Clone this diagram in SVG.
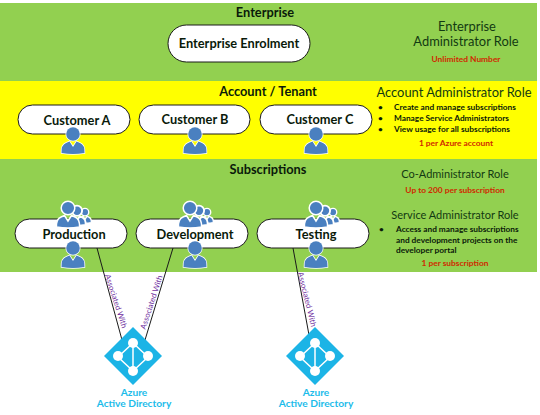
<svg xmlns="http://www.w3.org/2000/svg" width="540" height="415" viewBox="0 0 540 415">
<style>
text{font-family:Lato,"Open Sans","Liberation Sans",sans-serif;fill:#0a1a0a}
.m{text-anchor:middle}
.h{font-size:12.8px;font-weight:700}
.p{font-size:12.8px;font-weight:700;text-anchor:middle}
.r{font-size:12.9px;text-anchor:middle;fill:#123a12}
.s{font-size:11px}
.b{font-size:8.3px;font-weight:700}
.n{font-size:8.4px;font-weight:700;text-anchor:middle;fill:#d02a00}
.a{font-size:7.8px;fill:#7030a0;text-anchor:middle}
.z{font-size:10.2px;font-weight:700;fill:#1cbcea;text-anchor:middle}
.pill{fill:#fff;stroke:#1a1a1a;stroke-width:1}
.conn{stroke:#1a1a1a;stroke-width:1;fill:none}
</style>
<defs>
<g id="person"><circle cx="0" cy="-7" r="6.8"/><path d="M-11.5 12Q-12 4-7 2L-3.5 0.5L0 6L3.5 0.5L7 2Q12 4 11.5 12Q0 14 -11.5 12Z"/></g>
<g id="one"><use href="#person" fill="#4a80c0" stroke="#fff" stroke-width="1.5"/><use href="#person" fill="#4a80c0"/></g>
<g id="three">
<g transform="translate(17,1) scale(.55)"><use href="#person" fill="#4a80c0" stroke="#fff" stroke-width="2.5"/></g>
<g transform="translate(9,1) scale(.75)"><use href="#person" fill="#4a80c0" stroke="#fff" stroke-width="2.5"/></g>
<use href="#person" fill="#4a80c0" stroke="#fff" stroke-width="1.5"/>
</g>
<g id="aad">
<path d="M0-29L29 0L0 29L-29 0Z" fill="#1cb4e6"/>
<path d="M0-13L-15 1L0 15L15 1Z" fill="none" stroke="#fff" stroke-width="1.5"/>
<path d="M0-13V15" stroke="#fff" stroke-width="1.5"/>
<circle cx="0" cy="-13" r="5" fill="#fff"/><circle cx="-15" cy="0" r="5" fill="#fff"/><circle cx="15" cy="0" r="5" fill="#fff"/><circle cx="0" cy="15" r="5" fill="#fff"/>
</g>
</defs>
<rect width="540" height="415" fill="#fff"/>
<rect x="0" y="3" width="537" height="78" fill="#92d050"/>
<rect x="0" y="81" width="537" height="78" fill="#ffff00"/>
<rect x="0" y="159" width="537" height="113" fill="#92d050"/>
<g id="connectors">
<path class="conn" d="M97 248L122 340M173 248L145 340M293 248L309 335"/>
<text class="a" transform="translate(113.5,302) rotate(72)">Associated With</text>
<text class="a" transform="translate(154,303) rotate(-72)">Associated With</text>
<text class="a" transform="translate(304.5,300) rotate(76)">Associated With</text>
</g>
<g id="band-labels">
<text class="h m" x="265" y="17">Enterprise</text>
<text class="h m" x="268" y="96">Account / Tenant</text>
<text class="h m" x="268" y="174">Subscriptions</text>
</g>
<g id="enterprise-enrolment"><rect class="pill" x="168" y="25" width="142" height="37" rx="18.5"/><text class="p" x="239" y="48">Enterprise Enrolment</text></g>
<g id="customer-a"><rect class="pill" x="18" y="105" width="112" height="29" rx="14.5"/><text class="p" x="77" y="125">Customer A</text><use href="#one" x="73" y="141"/></g>
<g id="customer-b"><rect class="pill" x="139" y="105" width="111" height="29" rx="14.5"/><text class="p" x="195" y="124">Customer B</text><use href="#one" x="195" y="141"/></g>
<g id="customer-c"><rect class="pill" x="260" y="105" width="112" height="29" rx="14.5"/><text class="p" x="320" y="124">Customer C</text><use href="#one" x="316" y="141"/></g>
<g id="production"><rect class="pill" x="15" y="219" width="112" height="29" rx="14.5"/><use href="#three" x="68" y="215"/><text class="p" x="74" y="239">Production</text><use href="#one" x="73" y="255"/></g>
<g id="development"><rect class="pill" x="136" y="219" width="112" height="29" rx="14.5"/><use href="#three" x="190" y="215"/><text class="p" x="195" y="239">Development</text><use href="#one" x="195" y="255"/></g>
<g id="testing"><rect class="pill" x="257" y="219" width="112" height="29" rx="14.5"/><use href="#three" x="316" y="215"/><text class="p" x="316" y="239">Testing</text><use href="#one" x="316" y="255"/></g>
<g id="aad-1"><use href="#aad" x="133" y="356"/><text class="z" x="134" y="395.5">Azure</text><text class="z" x="134" y="407">Active Directory</text></g>
<g id="aad-2"><use href="#aad" x="315" y="356"/><text class="z" x="316" y="395.5">Azure</text><text class="z" x="316" y="407">Active Directory</text></g>
<g id="enterprise-role">
<text class="r" x="467" y="31">Enterprise</text>
<text class="r" x="466" y="46">Administrator Role</text>
<text class="n" x="466" y="62">Unlimited Number</text>
</g>
<g id="account-role">
<text class="r" x="454" y="97">Account Administrator Role</text>
<text class="b" x="378" y="110">•</text><text class="b" x="394" y="110">Create and manage subscriptions</text>
<text class="b" x="378" y="121">•</text><text class="b" x="394" y="121">Manage Service Administrators</text>
<text class="b" x="378" y="132">•</text><text class="b" x="394" y="132">View usage for all subscriptions</text>
<text class="n" x="456" y="146">1 per Azure account</text>
</g>
<g id="co-admin-role">
<text class="r s" x="455" y="178">Co-Administrator Role</text>
<text class="n" x="455" y="193">Up to 200 per subscription</text>
</g>
<g id="service-admin-role">
<text class="r s" x="455" y="219">Service Administrator Role</text>
<text class="b" x="379" y="232">•</text><text class="b" x="396" y="232">Access and manage subscriptions</text>
<text class="b" x="396" y="243">and development projects on the</text>
<text class="b" x="396" y="253">developer portal</text>
<text class="n" x="455" y="266">1 per subscription</text>
</g>
</svg>
